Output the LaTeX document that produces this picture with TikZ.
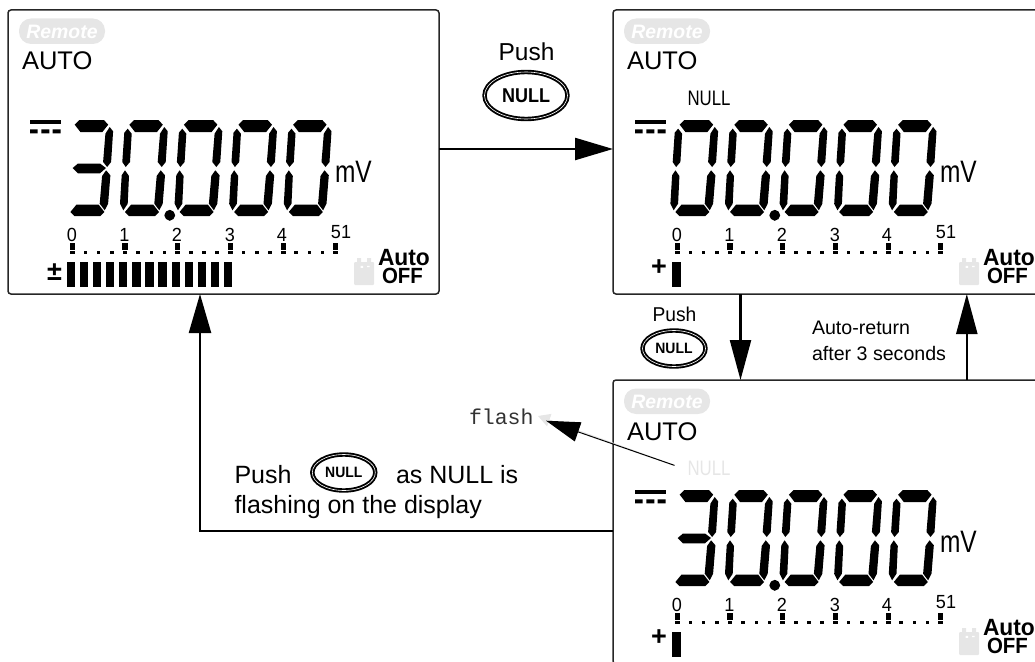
\documentclass[tikz,border=0pt]{standalone}
\usepackage{fontspec}
\usepackage{graphicx}
\setmainfont{Liberation Sans}
\newfontfamily\monof{Liberation Mono}
\usetikzlibrary{arrows.meta,shapes.geometric}
\definecolor{pale}{HTML}{E6E6E6}
\definecolor{edge}{HTML}{262626}
\newcommand{\fs}[1]{\fontsize{#1}{#1}\selectfont}
\newcommand{\nx}[2]{\scalebox{#1}[1]{#2}}
\tikzset{
  lbl/.style={inner sep=0pt,outer sep=0pt,anchor=base west},
  lblc/.style={inner sep=0pt,outer sep=0pt,anchor=base},
  panelbox/.style={draw=edge,line width=1.5pt,rounded corners=3pt,minimum width=431pt,minimum height=284pt,inner sep=0pt,outer sep=0pt},
  flow/.style={draw=black,line width=2.3pt,-{Triangle[length=38pt,width=22pt]}},
  button/.style={ellipse,draw=black,line width=1.9pt,double=white,double distance=0.6pt,inner sep=0pt,outer sep=0pt,font=\bfseries},
}
% seven-segment parts, coordinates of the second digit of the first panel
\newcommand{\sT}{\fill (129.3,124.7)--(134,120)--(158.5,120)--(162.8,124.7)--(157,132)--(135,132)--cycle;}
\newcommand{\sUL}{\fill (127.7,128.7)--(131.7,133.7)--(130,162)--(125.7,167)--(122.3,162)--(124.3,132.7)--cycle;}
\newcommand{\sUR}{\fill (164.3,127)--(167.7,131.3)--(165.7,162)--(161.7,167)--(157.7,162)--(160,133.7)--cycle;}
\newcommand{\sM}{\fill (127.3,168)--(132.6,163.5)--(154.6,163.5)--(160.6,168)--(154.6,173.3)--(132.6,173.3)--cycle;}
\newcommand{\sLL}{\fill (125,170.3)--(129,176)--(127.7,203.7)--(123.3,210.3)--(120,203.7)--(121.7,175.3)--cycle;}
\newcommand{\sLR}{\fill (160.7,170.3)--(165,175.3)--(162.7,203.7)--(159.3,210.3)--(154.3,203.7)--(156.7,176)--cycle;}
\newcommand{\sB}{\fill (125,212)--(131,204.7)--(153.3,204.7)--(159,212)--(155,216)--(129,216)--cycle;}
\newcommand{\dzero}[1]{\begin{scope}[shift={(#1,0)}]\sT\sUL\sUR\sLL\sLR\sB\end{scope}}
\newcommand{\dthree}[1]{\begin{scope}[shift={(#1,0)}]\sT\sUR\sM\sLR\sB\end{scope}}
% common parts of a display panel: #1 name prefix
\newcommand{\commonpanel}[1]{%
  \fill[pale,rounded corners=12pt] (19,18.5) rectangle (105,44);
  \node[lblc,text=white,font=\bfseries\itshape\fs{19.4}] (#1rem) at (62,38) {Remote};
  \node[lbl,font=\fs{25.5}] (#1auto) at (22,70) {AUTO};
  \fill (30,120) rectangle (60.7,124);
  \fill (30,129.3) rectangle (37.7,133.3) (41.3,129.3) rectangle (49.3,133.3) (52.7,129.3) rectangle (60.7,133.3);
  \dzero{0}\dzero{54.6}\dzero{109.2}\dzero{163.8}
  \fill (169.8,209.8)--(173.5,211.5)--(175.2,215.3)--(173.5,219)--(169.8,220.8)--(166,219)--(164.3,215.3)--(166,211.5)--cycle;
  \node[lbl,font=\fs{31}] (#1mv) at (335,182) {\nx{.79}{mV}};
  \foreach \xx/\lab [count=\i] in {72/0,124.5/1,177/2,230/3,282/4,341/51}{
    \ifnum\i=6 \node[lblc,font=\fs{19}] (#1t\i) at (\xx,238) {\nx{.95}{\lab}};
    \else \node[lblc,font=\fs{19}] (#1t\i) at (\xx,241) {\nx{.95}{\lab}};\fi
  }
  \foreach \xx in {72.3,125,177.7,230.4,283.1,335.8}{
    \fill (\xx-2.6,243) rectangle (\xx+2.6,250);
    \fill (\xx-2.4,251.4) rectangle (\xx+2.4,254.3);}
  \foreach \k in {0,...,20}{\fill (72.3+\k*13.175-1.8,251.2) rectangle (72.3+\k*13.175+1.8,254.4);}
  \fill[pale,rounded corners=1pt] (354,262) rectangle (374,285);
  \fill[pale] (357,258) rectangle (361,263) (367,258) rectangle (371,263);
  \fill[white] (360.5,265.8) rectangle (363,267.8) (367,265.8) rectangle (369.5,267.2);
  \node[lbl,font=\bfseries\fs{23.5}] (#1au) at (378,265) {\nx{.97}{Auto}};
  \node[lbl,font=\bfseries\fs{22}] (#1of) at (382,283) {\nx{.93}{OFF}};
}
\begin{document}
\begin{tikzpicture}[x=1pt,y=-1pt]
\useasboundingbox (0,0) rectangle (1035,661);
% panel boxes
\node[panelbox] (p1) at (223.5,152) {};
\node[panelbox] (p2) at (828.5,152) {};
\node[panelbox] (p3) at (828.5,522) {};
% panel 1
\begin{scope}
  \commonpanel{a}
  \dthree{-54.6}
  \node[lblc,font=\bfseries\fs{27}] (apm) at (54.5,280) {±};
  \foreach \k in {0,...,12}{\fill (66.7+\k*13.1,262.3) rectangle (75+\k*13.1,286.5);}
\end{scope}
% panel 2
\begin{scope}[shift={(605,0)}]
  \commonpanel{b}
  \dzero{-54.6}
  \node[lbl,font=\fs{21}] (bnull) at (82.5,105.5) {\nx{.8}{NULL}};
  \node[lblc,font=\bfseries\fs{27}] (bplus) at (54,275) {+};
  \fill (66.7,262.3) rectangle (76,286.5);
\end{scope}
% panel 3
\begin{scope}[shift={(605,370)}]
  \commonpanel{c}
  \dthree{-54.6}
  \node[lbl,font=\fs{21},text=pale] (cnull) at (82.5,105.5) {\nx{.8}{NULL}};
  \node[lblc,font=\bfseries\fs{27}] (cplus) at (54,275) {+};
  \fill (66.7,262.3) rectangle (76,286.5);
\end{scope}
% labels and buttons
\node[lblc,font=\fs{24.5}] (push1) at (526.5,60) {Push};
\node[button,minimum width=83pt,minimum height=47pt] (btn1) at (526,95.5) {\fs{20}\nx{.9}{NULL}};
\node[lblc,font=\fs{20}] (push2) at (674.5,321.5) {\nx{.96}{Push}};
\node[button,minimum width=63pt,minimum height=36pt] (btn2) at (674,348.5) {\fs{15}\nx{.93}{NULL}};
\node[lbl,font=\fs{19.6}] (ret1) at (812,334) {Auto-return};
\node[lbl,font=\fs{19.6}] (ret2) at (812,360) {after 3 seconds};
\node[lbl,font=\monof\fs{21.5},text=black!80] (flash) at (469,424) {flash};
\node[lbl,font=\fs{25}] (push3) at (234.5,483) {Push};
\node[button,minimum width=63pt,minimum height=36pt] (btn3) at (343.8,472.5) {\fs{15}\nx{.93}{NULL}};
\node[lbl,font=\fs{25}] (asnull) at (396,483) {as NULL is};
\node[lbl,font=\fs{25}] (flashing) at (234.5,513) {flashing on the display};
% connectors
\coordinate (yA) at (0,149);
\coordinate (xD) at (740.5,0);
\coordinate (xU) at (966.8,0);
\coordinate (yR) at (0,530.7);
\coordinate (xL) at (200,0);
\coordinate (corner) at (xL |- yR);
\draw[flow] (p1.east |- yA) -- (p2.west |- yA);
\draw[flow,-{Triangle[length=40pt,width=21pt]}] (p2.south -| xD) -- (p3.north -| xD);
\draw[flow,-{Triangle[length=40pt,width=21pt]}] (p3.north -| xU) -- (p2.south -| xU);
\draw[flow,-{Triangle[length=39pt,width=22pt]}] (p3.west |- yR) -- (corner) -- (p1.south -| xL);
\coordinate (fromN) at ([xshift=-13pt,yshift=3pt]cnull.west);
\coordinate (tipG) at (538,416);
\coordinate (tipB) at (546,420.7);
\draw[pale,line width=1pt,-{Triangle[length=12pt,width=13pt]}] (fromN) -- (tipG);
\draw[black,line width=1pt,-{Triangle[length=34pt,width=20pt]}] (fromN) -- (tipB);
\end{tikzpicture}
\end{document}
